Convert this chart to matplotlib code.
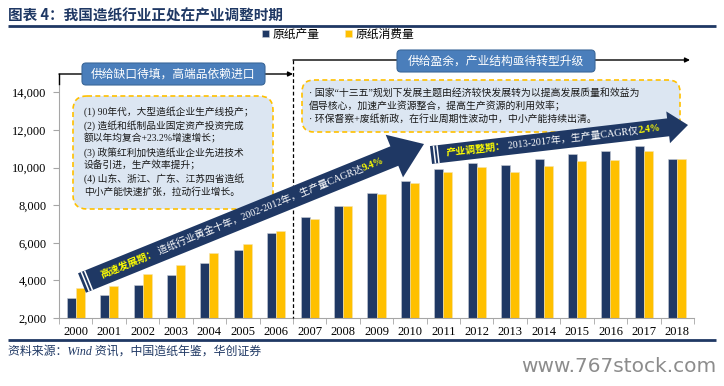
import matplotlib
matplotlib.use('Agg')
import matplotlib.pyplot as plt
import numpy as np
from matplotlib.patches import FancyBboxPatch, FancyArrow

# ---------------- data ----------------
years = [str(y) for y in range(2000, 2019)]
production = [3050, 3200, 3780, 4300, 4950, 5600, 6500, 7350, 7980, 8640,
              9270, 9930, 10250, 10110, 10470, 10710, 10855, 11130, 10435]
consumption = [3575, 3683, 4332, 4806, 5439, 5930, 6600, 7290, 7935, 8569,
               9173, 9752, 10048, 9782, 10071, 10352, 10419, 10897, 10439]
series_names = ['原纸产量', '原纸消费量']
yticks = [2000, 4000, 6000, 8000, 10000, 12000, 14000]

title = '图表 4：我国造纸行业正处在产业调整时期'
source = '资料来源：Wind 资讯，中国造纸年鉴，华创证券'
box1_title = '供给缺口待填，高端品依赖进口'
box2_title = '供给盈余，产业结构亟待转型升级'
box1_lines = ['(1) 90年代，大型造纸企业生产线投产；',
              '(2) 造纸和纸制品业固定资产投资完成',
              '额以年均复合+23.2%增速增长；',
              '(3) 政策红利加快造纸业企业先进技术',
              '设备引进，生产效率提升；',
              '(4) 山东、浙江、广东、江苏四省造纸',
              '中小产能快速扩张，拉动行业增长。']
box2_lines = ['· 国家“十三五”规划下发展主题由经济较快发展转为以提高发展质量和效益为',
              '倡导核心，加速产业资源整合，提高生产资源的利用效率；',
              '· 环保督察+废纸新政，在行业周期性波动中，中小产能持续出清。']
arrow1_parts = ['高速发展期：', ' 造纸行业黄金十年，2002-2012年，生产量CAGR达', '9.4%']
arrow2_parts = ['产业调整期：', ' 2013-2017年，生产量CAGR仅', '2.4%']
watermark = 'www.767stock.com'

MIX = ['Liberation Serif', 'Noto Sans CJK SC']
CJK = ['Noto Sans CJK SC', 'DejaVu Sans']
NAVY = '#1F3864'
GOLD = '#FFC000'
YEL = '#FFFF00'

W, H = 724, 386
fig = plt.figure(figsize=(W / 100, H / 100), dpi=100)


def fx(v):
    return v / W


def fy(v):
    return 1 - v / H


# ---------------- main axes ----------------
ax = fig.add_axes([fx(59), fy(318), (694 - 59) / W, (318 - 73.5) / H])
x = np.arange(len(years))
bw = 0.27
b1 = ax.bar(x - bw / 2, production, bw, color=NAVY, edgecolor='#C8CDD6',
            linewidth=0.4, zorder=2, label=series_names[0])
b2 = ax.bar(x + bw / 2, consumption, bw, color=GOLD, edgecolor='#F3E3B0',
            linewidth=0.4, zorder=2, label=series_names[1])
ax.set_xlim(-0.5, len(years) - 0.5)
ax.set_ylim(2000, 15000)
ax.set_yticks(yticks)
ax.set_yticklabels([f'{v:,}' for v in yticks], fontfamily='Liberation Serif',
                   fontsize=9, color='#000000')
ax.set_xticks(x)
ax.set_xticklabels(years, fontfamily='Liberation Serif', fontsize=9)
ax.set_xticks(np.arange(-0.5, len(years)), minor=True)
ax.tick_params(axis='x', which='major', length=0, pad=6)
ax.tick_params(axis='x', which='minor', length=4, color='#A6A6A6')
ax.tick_params(axis='y', length=4, color='#A6A6A6', pad=5)
for s in ['top', 'right']:
    ax.spines[s].set_visible(False)
for s in ['left', 'bottom']:
    ax.spines[s].set_color('#A6A6A6')
    ax.spines[s].set_linewidth(0.8)

ax.legend(handles=[b1, b2], labels=series_names, loc='center',
          bbox_to_anchor=(fx(338), fy(34)), bbox_transform=fig.transFigure,
          ncol=2, frameon=False, prop=dict(family=CJK, size=8.5),
          handlelength=0.6, handleheight=0.6, handletextpad=0.3,
          columnspacing=2.2)

# ---------------- overlay in pixel coordinates ----------------
ov = fig.add_axes([0, 0, 1, 1], zorder=5)
ov.set_xlim(0, W)
ov.set_ylim(H, 0)
ov.axis('off')

# title & rules
ov.text(8, 15, title, fontsize=10.5, fontweight='bold', color=NAVY,
        family=CJK, va='center', ha='left')
ov.plot([8, 716], [26, 26], color=NAVY, lw=2, solid_capstyle='butt')
ov.plot([8, 716], [340, 340], color=NAVY, lw=2, solid_capstyle='butt')
ov.text(8, 352, source, fontsize=8.6, style='italic', color=NAVY,
        family=MIX, va='center', ha='left')
ov.text(716, 367, watermark, fontsize=14.5, color='#8C8C8C',
        family='Liberation Sans Narrow', va='center', ha='right')

# connector lines
ov.plot([59, 59], [74, 84], color='black', lw=1)
ov.annotate('', xy=(293, 74), xytext=(59, 74),
            arrowprops=dict(arrowstyle='-|>', color='black', lw=1,
                            mutation_scale=7, shrinkA=0, shrinkB=0))
ov.plot([293, 293], [60, 318], color='black', lw=0.9, dashes=(3, 2))
ov.annotate('', xy=(690, 60), xytext=(293, 60),
            arrowprops=dict(arrowstyle='-|>', color='black', lw=1,
                            mutation_scale=7, shrinkA=0, shrinkB=0))

# blue header boxes
for (bx, by, bwid, bht, txt) in [(82, 63, 183, 22, box1_title),
                                  (397, 50, 198, 22, box2_title)]:
    ov.add_patch(FancyBboxPatch((bx, by), bwid, bht,
                                boxstyle='round,pad=0,rounding_size=4',
                                facecolor='#4A7EBB', edgecolor='#3A6799',
                                lw=0.8, zorder=3))
    ov.text(bx + bwid / 2, by + bht / 2 + 0.5, txt, color='white',
            fontsize=8.5, family=CJK, ha='center', va='center', zorder=4)

# light blue note boxes
ov.add_patch(FancyBboxPatch((73, 96), 200, 113,
                            boxstyle='round,pad=0,rounding_size=14',
                            facecolor='#DCE6F2', edgecolor=GOLD, lw=1.2,
                            linestyle=(0, (3, 2)), zorder=3))
for i, line in enumerate(box1_lines):
    ov.text(84, 112 + i * 13.4, line, fontsize=7, color='#1A1A1A',
            family=MIX, ha='left', va='center', zorder=4)

ov.add_patch(FancyBboxPatch((302, 80), 378, 52,
                            boxstyle='round,pad=0,rounding_size=12',
                            facecolor='#DCE6F2', edgecolor=GOLD, lw=1.2,
                            linestyle=(0, (3, 2)), zorder=3))
for i, line in enumerate(box2_lines):
    ov.text(309, 93 + i * 13, line, fontsize=7.1, color='#1A1A1A',
            family=MIX, ha='left', va='center', zorder=4)

# big trend arrows
renderer = fig.canvas.get_renderer()


def big_arrow(tail, tip, width, head_w, head_l):
    dx, dy = tip[0] - tail[0], tip[1] - tail[1]
    ov.add_patch(FancyArrow(tail[0], tail[1], dx, dy, width=width,
                            head_width=head_w, head_length=head_l,
                            length_includes_head=True, color=NAVY,
                            lw=0, zorder=6))
    L = np.hypot(dx, dy)
    ux, uy = dx / L, dy / L
    px, py = -uy, ux
    for off in (3.5, 7.0):
        cx, cy = tail[0] + ux * off, tail[1] + uy * off
        h = width / 2
        ov.plot([cx - px * h, cx + px * h], [cy - py * h, cy + py * h],
                color='white', lw=1.1, zorder=7, solid_capstyle='butt')
    ang = np.degrees(np.arctan2(-dy, dx))
    return ux, uy, ang


def seq_text(start, ux, uy, ang, pieces):
    pos = 0.0
    for s, col, kw in pieces:
        ov.text(start[0] + ux * pos, start[1] + uy * pos, s, rotation=ang,
                rotation_mode='anchor', ha='left', va='center', color=col,
                zorder=8, **kw)
        tmp = ov.text(0, 0, s, **kw)
        pos += tmp.get_window_extent(renderer).width
        tmp.remove()


FS = 7.2
tail1, tip1 = (82, 283), (424, 144)
ux, uy, ang = big_arrow(tail1, tip1, 21, 46, 32)
seq_text((tail1[0] + ux * 20, tail1[1] + uy * 20), ux, uy, ang, [
    (arrow1_parts[0], YEL, dict(fontsize=FS, family=CJK, fontweight='bold', style='italic')),
    (arrow1_parts[1], 'white', dict(fontsize=FS, family=MIX)),
    (arrow1_parts[2], YEL, dict(fontsize=FS, family=MIX, fontweight='bold')),
])

tail2, tip2 = (431, 155), (688, 125)
ux, uy, ang = big_arrow(tail2, tip2, 18, 32, 20)
seq_text((tail2[0] + ux * 15, tail2[1] + uy * 15), ux, uy, ang, [
    (arrow2_parts[0], YEL, dict(fontsize=FS, family=CJK, fontweight='bold', style='italic')),
    (arrow2_parts[1], 'white', dict(fontsize=FS, family=MIX)),
    (arrow2_parts[2], YEL, dict(fontsize=FS, family=MIX, fontweight='bold')),
])

fig.savefig('out.png', dpi=100, facecolor='white')
